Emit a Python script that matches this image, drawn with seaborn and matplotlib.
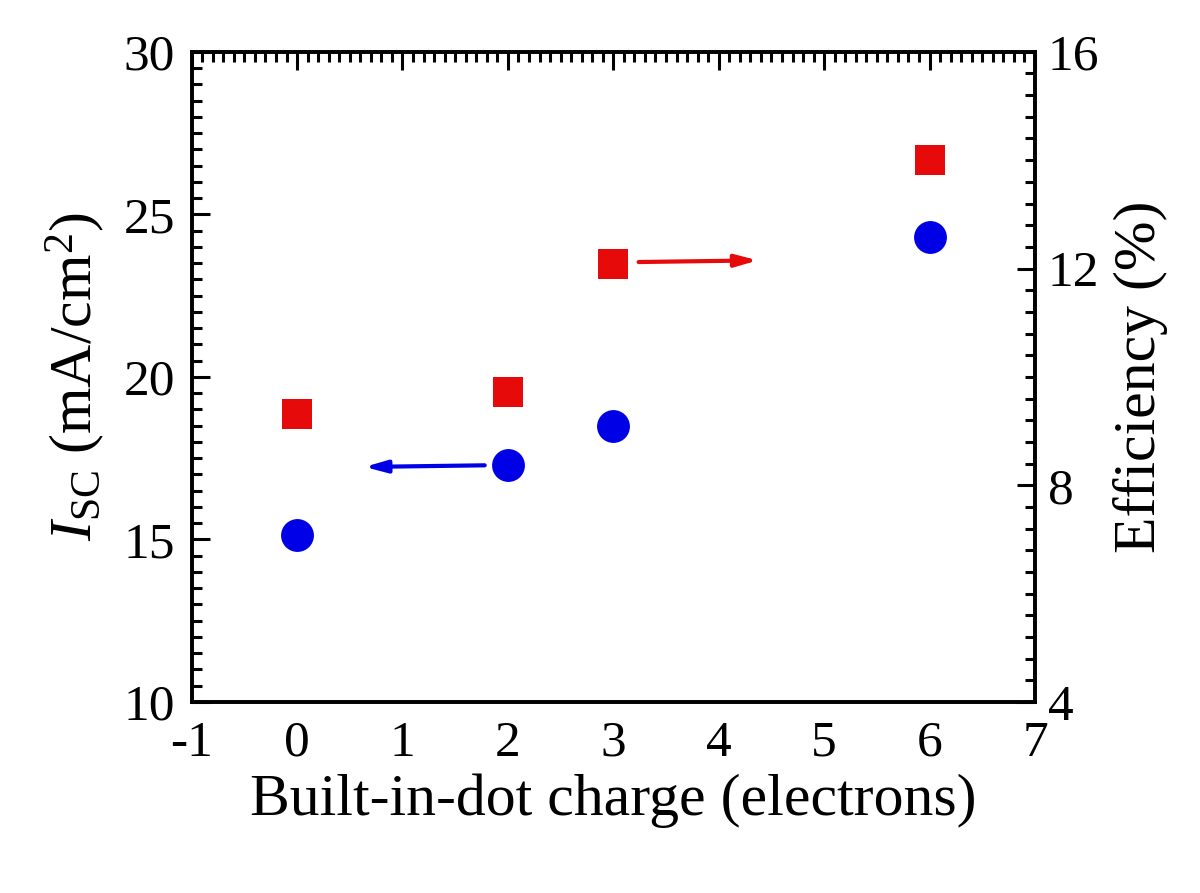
import seaborn as sns
import matplotlib.pyplot as plt
import pandas as pd
from matplotlib.ticker import MultipleLocator

# data
charge = [0, 2, 3, 6]
isc = [15.15, 17.28, 18.49, 24.29]
efficiency = [9.31, 9.72, 12.09, 14.0]

df = pd.DataFrame({"charge": charge, "isc": isc, "eff": efficiency})

sns.set_style("white")
plt.rcParams['font.family'] = ['Liberation Serif', 'DejaVu Serif']
plt.rcParams['mathtext.fontset'] = 'custom'
plt.rcParams['mathtext.rm'] = 'Liberation Serif'
plt.rcParams['mathtext.it'] = 'Liberation Serif:italic'
plt.rcParams['axes.unicode_minus'] = False
for k in ('text.color', 'axes.labelcolor', 'xtick.color', 'ytick.color'):
    plt.rcParams[k] = 'black'

fig = plt.figure(figsize=(12, 8.93), dpi=100)
ax = fig.add_axes([0.1597, 0.2139, 0.7028, 0.7281])
ax2 = ax.twinx()

blue = "#0000e6"
red = "#e60a0a"

sns.scatterplot(data=df, x="charge", y="isc", ax=ax, color=blue, marker="o",
                s=560, linewidth=0, zorder=3)
sns.scatterplot(data=df, x="charge", y="eff", ax=ax2, color=red, marker="s",
                s=450, linewidth=0, zorder=3)

ax.set_xlim(-1, 7)
ax.set_ylim(10, 30)
ax2.set_ylim(4, 16)

ax.xaxis.set_major_locator(MultipleLocator(1))
ax.xaxis.set_minor_locator(MultipleLocator(0.1))
ax.yaxis.set_major_locator(MultipleLocator(5))
ax.yaxis.set_minor_locator(MultipleLocator(0.5))
ax2.yaxis.set_major_locator(MultipleLocator(4))
ax2.yaxis.set_minor_locator(MultipleLocator(0.4))

ax.tick_params(axis="both", which="both", direction="in", width=2.2,
               labelsize=37, colors="black")
ax.tick_params(axis="x", which="both", top=True, labeltop=False, pad=13)
ax.tick_params(axis="y", which="both", left=True, right=False, pad=12)
ax.tick_params(which="major", length=13)
ax.tick_params(which="minor", length=7)
ax2.tick_params(axis="y", which="both", direction="in", width=2.2,
                labelsize=37, right=True, left=False, pad=9, colors="black")
ax2.tick_params(which="major", length=13)
ax2.tick_params(which="minor", length=7)

for a in (ax, ax2):
    for sp in a.spines.values():
        sp.set_linewidth(2.6)
        sp.set_color("black")
        sp.set_visible(True)

ax.set_xlabel("Built-in-dot charge (electrons)", fontsize=43, labelpad=5)
ax.set_ylabel(r"$I_{\rm SC}$ (mA/cm$^2$)", fontsize=43, labelpad=12)
ax2.set_ylabel("Efficiency (%)", fontsize=43, labelpad=10)

# direction arrows
ax.annotate("", xy=(0.64, 17.23), xytext=(1.78, 17.28),
            arrowprops=dict(arrowstyle="-|>,head_length=0.65,head_width=0.18",
                            color=blue, lw=3, mutation_scale=20,
                            shrinkA=0, shrinkB=0))
ax2.annotate("", xy=(4.37, 12.15), xytext=(3.24, 12.12),
             arrowprops=dict(arrowstyle="-|>,head_length=0.65,head_width=0.18",
                             color=red, lw=3, mutation_scale=20,
                             shrinkA=0, shrinkB=0))

fig.savefig("out.png", dpi=100, facecolor="white")
